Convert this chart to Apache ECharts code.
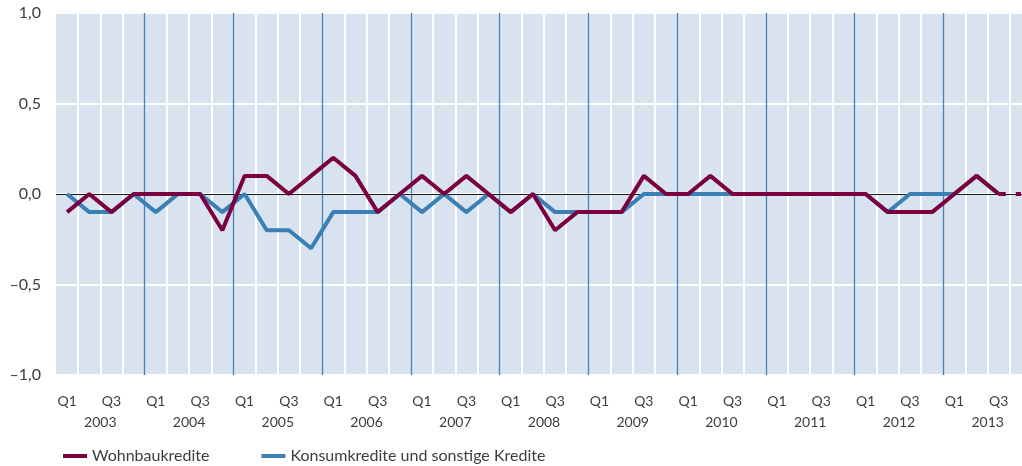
<!DOCTYPE html>
<html>
<head>
<meta charset="utf-8">
<script src="https://cdn.jsdelivr.net/npm/echarts@6/dist/echarts.min.js"></script>
<style>
  html, body { margin: 0; padding: 0; background: #fff; }
  #chart { width: 1022px; height: 466px; }
</style>
</head>
<body>
<div id="chart"></div>
<script>
const years = ['2003', '2004', '2005', '2006', '2007', '2008', '2009', '2010', '2011', '2012', '2013'];
const quarters = ['Q1', 'Q2', 'Q3', 'Q4'];
const quarterLabels = ['Q1', '', 'Q3', ''];
const yTicks = [-1, -0.5, 0, 0.5, 1];

// Veränderung in Prozentpunkten, 2003 Q1 bis 2013 Q4
const wohnbau = [
  -0.1, 0, -0.1, 0,
  0, 0, 0, -0.2,
  0.1, 0.1, 0, 0.1,
  0.2, 0.1, -0.1, 0,
  0.1, 0, 0.1, 0,
  -0.1, 0, -0.2, -0.1,
  -0.1, -0.1, 0.1, 0,
  0, 0.1, 0, 0,
  0, 0, 0, 0,
  0, -0.1, -0.1, -0.1,
  0, 0.1, 0, 0
];
const konsum = [
  0, -0.1, -0.1, 0,
  -0.1, 0, 0, -0.1,
  0, -0.2, -0.2, -0.3,
  -0.1, -0.1, -0.1, 0,
  -0.1, 0, -0.1, 0,
  -0.1, 0, -0.1, -0.1,
  -0.1, -0.1, 0, 0,
  0, 0, 0, 0,
  0, 0, 0, 0,
  0, -0.1, 0, 0,
  0, 0.1, 0, null
];

const categories = [];
years.forEach(y => quarters.forEach(q => categories.push(q + ' ' + y)));

// last quarter of Wohnbaukredite drawn dashed
const n = wohnbau.length;
const wohnbauSolid = wohnbau.map((v, i) => (i < n - 1 ? v : null));
const wohnbauDashed = wohnbau.map((v, i) => (i >= n - 2 ? v : null));

const font = 'Lato';
const textColor = '#3d3d3d';
const purple = '#7a0040';
const blue = '#3a80b5';

const fmtY = v => (v < 0 ? '\u2013' : '') + Math.abs(v).toFixed(1).replace('.', ',');

const chart = echarts.init(document.getElementById('chart'));

chart.setOption({
  animation: false,
  grid: {
    left: 56,
    width: 976,
    top: 13,
    bottom: 91,
    outerBoundsMode: 'none',
    containLabel: false,
    show: true,
    backgroundColor: '#d9e3ef',
    borderWidth: 0
  },
  legend: {
    data: ['Wohnbaukredite', 'Konsumkredite und sonstige Kredite'],
    left: 58,
    top: 443,
    icon: 'rect',
    itemWidth: 24,
    itemHeight: 4,
    itemGap: 52,
    textStyle: { fontFamily: font, fontSize: 16, color: textColor }
  },
  xAxis: [
    {
      type: 'category',
      data: categories,
      position: 'bottom',
      boundaryGap: true,
      axisLine: { show: false },
      axisTick: { show: false },
      axisLabel: {
        interval: 0,
        margin: 19,
        fontFamily: font,
        fontSize: 14,
        color: textColor,
        formatter: (v, i) => quarterLabels[i % 4]
      },
      splitLine: {
        show: true,
        interval: (i) => i % 4 !== 0,
        lineStyle: { color: '#ffffff', width: 2 }
      }
    },
    {
      type: 'category',
      data: years,
      position: 'bottom',
      boundaryGap: true,
      axisLine: { show: false },
      axisTick: { show: false },
      axisLabel: {
        interval: 0,
        margin: 40,
        fontFamily: font,
        fontSize: 14,
        color: textColor
      },
      splitLine: {
        show: true,
        interval: (i) => i > 0,
        lineStyle: { color: '#4283bc', width: 1.3 }
      }
    }
  ],
  yAxis: {
    type: 'value',
    min: yTicks[0],
    max: yTicks[yTicks.length - 1],
    interval: 0.5,
    axisLine: { show: false },
    axisTick: { show: false },
    axisLabel: {
      margin: 15,
      fontFamily: font,
      fontSize: 16,
      color: textColor,
      formatter: fmtY
    },
    splitLine: { show: true, lineStyle: { color: '#ffffff', width: 2 } }
  },
  series: [
    {
      name: 'Konsumkredite und sonstige Kredite',
      type: 'line',
      xAxisIndex: 0,
      data: konsum,
      symbol: 'none',
      color: blue,
      lineStyle: { color: blue, width: 4 },
      z: 3,
      markLine: {
        silent: true,
        symbol: 'none',
        label: { show: false },
        lineStyle: { color: '#1a1a1a', width: 1, type: 'solid' },
        data: [{ yAxis: 0 }],
        z: 1
      }
    },
    {
      name: 'Wohnbaukredite',
      type: 'line',
      xAxisIndex: 0,
      data: wohnbauSolid,
      symbol: 'none',
      color: purple,
      lineStyle: { color: purple, width: 4 },
      z: 4
    },
    {
      name: 'Wohnbaukredite (Prognose)',
      type: 'line',
      xAxisIndex: 0,
      data: wohnbauDashed,
      symbol: 'none',
      color: purple,
      lineStyle: { color: purple, width: 4, type: [7, 10] },
      z: 4
    }
  ]
});
</script>
</body>
</html>
